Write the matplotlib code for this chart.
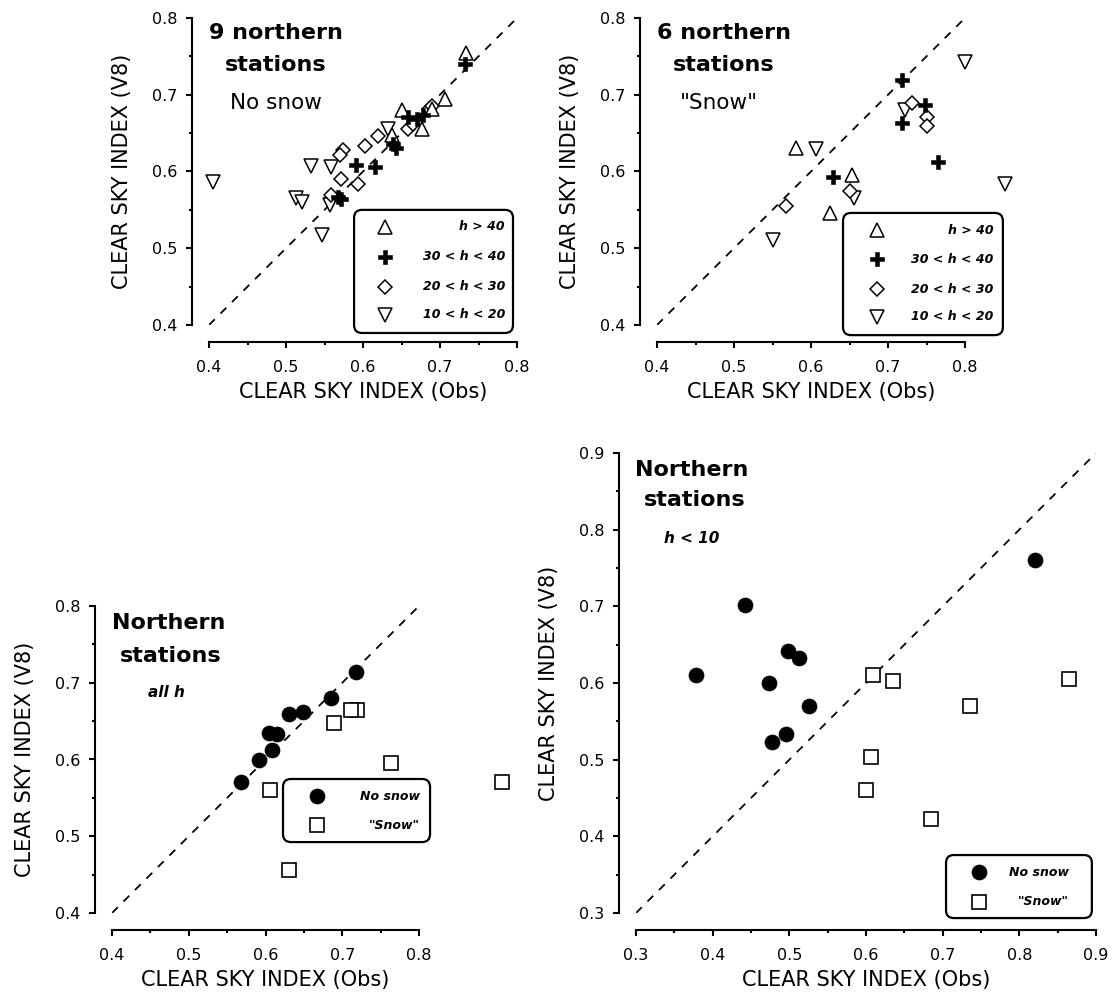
import matplotlib
matplotlib.use("Agg")
import matplotlib.pyplot as plt
from matplotlib.patches import FancyBboxPatch
from matplotlib.ticker import MultipleLocator, FormatStrFormatter
from matplotlib.transforms import offset_copy

plt.rcParams['font.family'] = ['DejaVu Sans']

# 9 northern stations, no snow (obs, v8) by sun height class
ns_up_x = [0.734, 0.706, 0.650, 0.676, 0.690, 0.638]
ns_up_y = [0.754, 0.695, 0.680, 0.656, 0.682, 0.648]
ns_plus_x = [0.732, 0.659, 0.670, 0.678, 0.639, 0.643, 0.591, 0.616, 0.568, 0.571]
ns_plus_y = [0.740, 0.671, 0.668, 0.673, 0.636, 0.631, 0.608, 0.606, 0.567, 0.564]
ns_dia_x = [0.574, 0.570, 0.603, 0.620, 0.659, 0.665, 0.686, 0.690, 0.571, 0.593, 0.559]
ns_dia_y = [0.628, 0.622, 0.633, 0.646, 0.655, 0.662, 0.681, 0.685, 0.590, 0.584, 0.569]
ns_down_x = [0.405, 0.532, 0.559, 0.513, 0.521, 0.557, 0.547, 0.633]
ns_down_y = [0.586, 0.607, 0.606, 0.566, 0.560, 0.556, 0.517, 0.655]

# 6 northern stations, "snow"
sn_up_x = [0.581, 0.653, 0.625]
sn_up_y = [0.630, 0.595, 0.546]
sn_plus_x = [0.718, 0.748, 0.718, 0.765, 0.629]
sn_plus_y = [0.719, 0.687, 0.663, 0.613, 0.593]
sn_dia_x = [0.731, 0.750, 0.750, 0.651, 0.568]
sn_dia_y = [0.689, 0.671, 0.659, 0.575, 0.555]
sn_down_x = [0.800, 0.722, 0.607, 0.852, 0.656, 0.551]
sn_down_y = [0.743, 0.680, 0.629, 0.584, 0.566, 0.511]

# northern stations, all h
all_ns_x = [0.718, 0.685, 0.649, 0.631, 0.615, 0.604, 0.608, 0.591, 0.568]
all_ns_y = [0.714, 0.680, 0.662, 0.659, 0.633, 0.634, 0.612, 0.599, 0.571]
all_sn_x = [0.719, 0.712, 0.689, 0.763, 0.606, 0.908, 0.631]
all_sn_y = [0.665, 0.665, 0.647, 0.595, 0.560, 0.571, 0.456]

# northern stations, h < 10
low_ns_x = [0.442, 0.378, 0.498, 0.512, 0.474, 0.526, 0.496, 0.478, 0.820]
low_ns_y = [0.702, 0.610, 0.642, 0.633, 0.600, 0.570, 0.533, 0.523, 0.760]
low_sn_x = [0.609, 0.635, 0.735, 0.607, 0.600, 0.685, 0.865]
low_sn_y = [0.611, 0.602, 0.570, 0.504, 0.460, 0.423, 0.605]

h_labels = ["h > 40", "30 < h < 40", "20 < h < 30", "10 < h < 20"]
snow_labels = ["No snow", '"Snow"']
xlab = "CLEAR SKY INDEX (Obs)"
ylab = "CLEAR SKY INDEX (V8)"

up = dict(marker='^', ms=9.5, mfc='white', mec='black', mew=1.1, ls='none')
plus = dict(marker='P', ms=10, mfc='black', mec='black', mew=0.4, ls='none')
dia = dict(marker='D', ms=6.8, mfc='white', mec='black', mew=1.1, ls='none')
down = dict(marker='v', ms=9.5, mfc='white', mec='black', mew=1.1, ls='none')
dot = dict(marker='o', ms=10.8, mfc='black', mec='black', mew=0.5, ls='none')
sq = dict(marker='s', ms=10, mfc='white', mec='black', mew=1.2, ls='none')

fig = plt.figure(figsize=(11.12, 9.97), dpi=100)
W, H = 1112, 997


def make_ax(x0, x1, y0, y1, lo, hi):
    ax = fig.add_axes([x0 / W, 1 - y1 / H, (x1 - x0) / W, (y1 - y0) / H])
    ax.set_xlim(lo, hi)
    ax.set_ylim(lo, hi)
    ax.spines['top'].set_visible(False)
    ax.spines['right'].set_visible(False)
    ax.spines['left'].set_position(('outward', 12.5))
    ax.spines['bottom'].set_position(('outward', 12.5))
    ax.spines['left'].set_linewidth(1.5)
    ax.spines['bottom'].set_linewidth(1.5)
    for a in (ax.xaxis, ax.yaxis):
        a.set_major_locator(MultipleLocator(0.1))
        a.set_minor_locator(MultipleLocator(0.05))
        a.set_major_formatter(FormatStrFormatter('%.1f'))
    ax.tick_params(which='major', length=4.5, width=1.5, labelsize=11.5)
    ax.tick_params(which='minor', length=2.3, width=1.5)
    ax.tick_params(axis='x', which='major', pad=8)
    ax.tick_params(axis='y', which='major', pad=5.5)
    ax.plot([lo, hi], [lo, hi], color='black', lw=1.3, ls=(0, (4.5, 4.5)), zorder=1)
    ax.set_xlabel(xlab, fontsize=15)
    ax.set_ylabel(ylab, fontsize=15)
    ax.xaxis.set_label_coords(0.5, 0, transform=offset_copy(ax.transAxes, fig=fig, y=-57, units='dots'))
    ax.yaxis.set_label_coords(0, 0.5, transform=offset_copy(ax.transAxes, fig=fig, x=-77, units='dots'))
    return ax


def box_legend(ax, x0, y0, x1, y1, mx, tx, rows, labels, rs):
    ax.add_patch(FancyBboxPatch((x0, y0), x1 - x0, y1 - y0,
                                boxstyle='round,pad=0,rounding_size=%f' % rs,
                                transform=ax.transAxes, fc='white', ec='black',
                                lw=1.6, clip_on=False, zorder=5))
    for (y, kw), lab in zip(rows, labels):
        ax.plot([mx], [y], transform=ax.transAxes, clip_on=False, zorder=6, **kw)
        ax.text(tx, y, lab, transform=ax.transAxes, ha='right', va='center',
                fontsize=9, fontweight='bold', style='italic', zorder=6)


# top left
ax1 = make_ax(209, 517, 18, 325, 0.4, 0.8)
ax1.plot(ns_down_x, ns_down_y, clip_on=False, zorder=3, **down)
ax1.plot(ns_dia_x, ns_dia_y, clip_on=False, zorder=3, **dia)
ax1.plot(ns_up_x, ns_up_y, clip_on=False, zorder=3, **up)
ax1.plot(ns_plus_x, ns_plus_y, clip_on=False, zorder=4, **plus)
ax1.text(0.2175, 0.951, "9 northern", transform=ax1.transAxes, ha='center', va='center', fontsize=16, fontweight='bold')
ax1.text(0.2175, 0.847, "stations", transform=ax1.transAxes, ha='center', va='center', fontsize=16, fontweight='bold')
ax1.text(0.068, 0.723, "No snow", transform=ax1.transAxes, ha='left', va='center', fontsize=15.5)
box_legend(ax1, 0.471, -0.026, 0.987, 0.375, 0.571, 0.961,
           [(0.320, up), (0.222, plus), (0.124, dia), (0.033, down)], h_labels, 0.026)

# top right
ax2 = make_ax(657, 965, 18, 325, 0.4, 0.8)
ax2.plot(sn_down_x, sn_down_y, clip_on=False, zorder=3, **down)
ax2.plot(sn_dia_x, sn_dia_y, clip_on=False, zorder=3, **dia)
ax2.plot(sn_up_x, sn_up_y, clip_on=False, zorder=3, **up)
ax2.plot(sn_plus_x, sn_plus_y, clip_on=False, zorder=4, **plus)
ax2.text(0.2175, 0.951, "6 northern", transform=ax2.transAxes, ha='center', va='center', fontsize=16, fontweight='bold')
ax2.text(0.2175, 0.847, "stations", transform=ax2.transAxes, ha='center', va='center', fontsize=16, fontweight='bold')
ax2.text(0.075, 0.723, '"Snow"', transform=ax2.transAxes, ha='left', va='center', fontsize=15.5)
box_legend(ax2, 0.604, -0.033, 1.123, 0.365, 0.713, 1.092,
           [(0.309, up), (0.214, plus), (0.116, dia), (0.027, down)], h_labels, 0.026)

# bottom left
ax3 = make_ax(112, 419, 606, 913, 0.4, 0.8)
ax3.plot(all_ns_x, all_ns_y, clip_on=False, zorder=3, **dot)
ax3.plot(all_sn_x, all_sn_y, clip_on=False, zorder=3, **sq)
ax3.text(0.184, 0.945, "Northern", transform=ax3.transAxes, ha='center', va='center', fontsize=16, fontweight='bold')
ax3.text(0.190, 0.837, "stations", transform=ax3.transAxes, ha='center', va='center', fontsize=16, fontweight='bold')
ax3.text(0.176, 0.717, "all h", transform=ax3.transAxes, ha='center', va='center', fontsize=11, fontweight='bold', style='italic')
box_legend(ax3, 0.557, 0.231, 1.036, 0.4365, 0.667, 1.003,
           [(0.381, dot), (0.286, sq)], snow_labels, 0.026)

# bottom right
ax4 = make_ax(636, 1096, 453, 913, 0.3, 0.9)
ax4.plot(low_ns_x, low_ns_y, clip_on=False, zorder=3, **dot)
ax4.plot(low_sn_x, low_sn_y, clip_on=False, zorder=3, **sq)
ax4.text(0.121, 0.963, "Northern", transform=ax4.transAxes, ha='center', va='center', fontsize=16, fontweight='bold')
ax4.text(0.128, 0.898, "stations", transform=ax4.transAxes, ha='center', va='center', fontsize=16, fontweight='bold')
ax4.text(0.121, 0.815, "h < 10", transform=ax4.transAxes, ha='center', va='center', fontsize=11, fontweight='bold', style='italic')
box_legend(ax4, 0.674, -0.011, 0.991, 0.126, 0.746, 0.941,
           [(0.089, dot), (0.024, sq)], snow_labels, 0.017)

fig.savefig("out.png", dpi=100)
